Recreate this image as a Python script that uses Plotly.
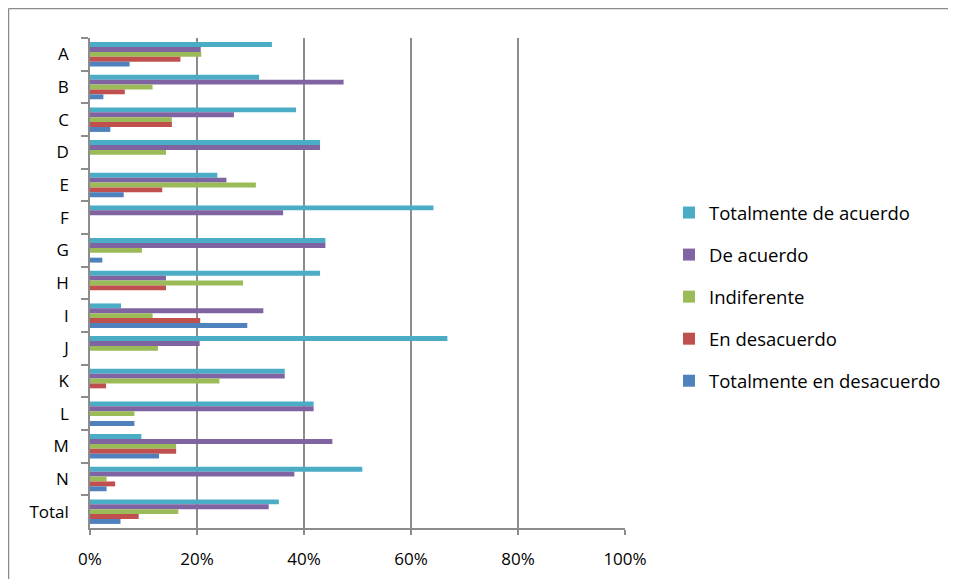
import plotly.graph_objects as go

categories = ["A", "B", "C", "D", "E", "F", "G", "H", "I", "J", "K", "L", "M", "N", "Total"]

totalmente_de_acuerdo = [34.0, 31.6, 38.5, 43.0, 23.8, 64.2, 44.0, 43.0, 5.8, 66.8, 36.4, 41.8, 9.6, 50.9, 35.3]
de_acuerdo = [20.7, 47.4, 26.9, 43.0, 25.5, 36.1, 44.0, 14.2, 32.4, 20.5, 36.4, 41.8, 45.3, 38.2, 33.4]
indiferente = [20.8, 11.7, 15.3, 14.2, 31.0, 0.0, 9.7, 28.6, 11.7, 12.7, 24.2, 8.3, 16.1, 3.1, 16.5]
en_desacuerdo = [16.9, 6.5, 15.3, 0.0, 13.5, 0.0, 0.0, 14.2, 20.6, 0.0, 3.0, 0.0, 16.1, 4.7, 9.1]
totalmente_en_desacuerdo = [7.4, 2.5, 3.8, 0.0, 6.3, 0.0, 2.3, 0.0, 29.4, 0.0, 0.0, 8.3, 12.9, 3.1, 5.7]

series_names = ["Totalmente de acuerdo", "De acuerdo", "Indiferente", "En desacuerdo", "Totalmente en desacuerdo"]
series_values = [totalmente_de_acuerdo, de_acuerdo, indiferente, en_desacuerdo, totalmente_en_desacuerdo]
series_colors = ["#4BACC6", "#8064A2", "#9BBB59", "#C0504D", "#4F81BD"]

x_ticks = [0, 0.2, 0.4, 0.6, 0.8, 1.0]
x_tick_labels = ["0%", "20%", "40%", "60%", "80%", "100%"]

FONT = "Open Sans"
GRID = "#8C8C8C"

# The page body has an 8px margin; compensate so that screen positions match.
OFF = 8
W, H = 956 - OFF, 579 - OFF
# plot area in screen pixels, converted to figure pixels
L, R, T, B = 90 - OFF, 625 - OFF, 38 - OFF, 528 - OFF
PW, PH = R - L, B - T

fig = go.Figure()
for name, vals, col in zip(series_names, series_values, series_colors):
    fig.add_trace(go.Bar(
        y=categories,
        x=[v / 100 for v in vals],
        name=name,
        orientation="h",
        marker=dict(color=col, line=dict(width=0)),
        legendgroup=name,
    ))

fig.update_layout(
    width=W,
    height=H,
    margin=dict(l=L, r=W - R, t=T, b=H - B, autoexpand=False),
    paper_bgcolor="white",
    plot_bgcolor="white",
    barmode="group",
    bargap=0.25,
    bargroupgap=0,
    font=dict(family=FONT, size=17, color="#000000"),
    legend=dict(
        x=(669 - OFF - L) / PW, y=(B - (297 - OFF)) / PH, xanchor="left", yanchor="middle",
        traceorder="grouped",
        tracegroupgap=15,
        font=dict(family=FONT, size=18.5, color="#000000"),
        itemwidth=30,
        bgcolor="rgba(0,0,0,0)",
    ),
    xaxis=dict(
        range=[0, 1],
        tickvals=x_ticks,
        ticktext=x_tick_labels,
        showgrid=True,
        gridcolor=GRID,
        gridwidth=1.5,
        showline=True,
        linecolor=GRID,
        linewidth=1.5,
        ticks="outside",
        ticklen=5,
        tickcolor=GRID,
        tickwidth=1.5,
        ticklabelstandoff=10,
        zeroline=False,
        automargin=False,
        tickfont=dict(family=FONT, size=17),
        fixedrange=True,
    ),
    yaxis=dict(
        categoryorder="array",
        categoryarray=categories,
        autorange="reversed",
        showgrid=False,
        showline=True,
        linecolor=GRID,
        linewidth=1.5,
        ticks="outside",
        tickson="boundaries",
        ticklen=7,
        tickcolor=GRID,
        tickwidth=1.5,
        ticklabelstandoff=16,
        automargin=False,
        tickfont=dict(family=FONT, size=17),
        fixedrange=True,
    ),
)

# Outer chart border (left and top edges, running off the right and bottom)
top_y = (B - (8.5 - OFF)) / PH
left_x = ((8.5 - OFF) - L) / PW
fig.add_shape(type="line", xref="paper", yref="paper", x0=left_x, x1=(W - L) / PW + 0.01,
              y0=top_y, y1=top_y, line=dict(color=GRID, width=1.5))
fig.add_shape(type="line", xref="paper", yref="paper", x0=left_x, x1=left_x,
              y0=top_y, y1=-0.2, line=dict(color=GRID, width=1.5))

fig.write_html("out.html")
